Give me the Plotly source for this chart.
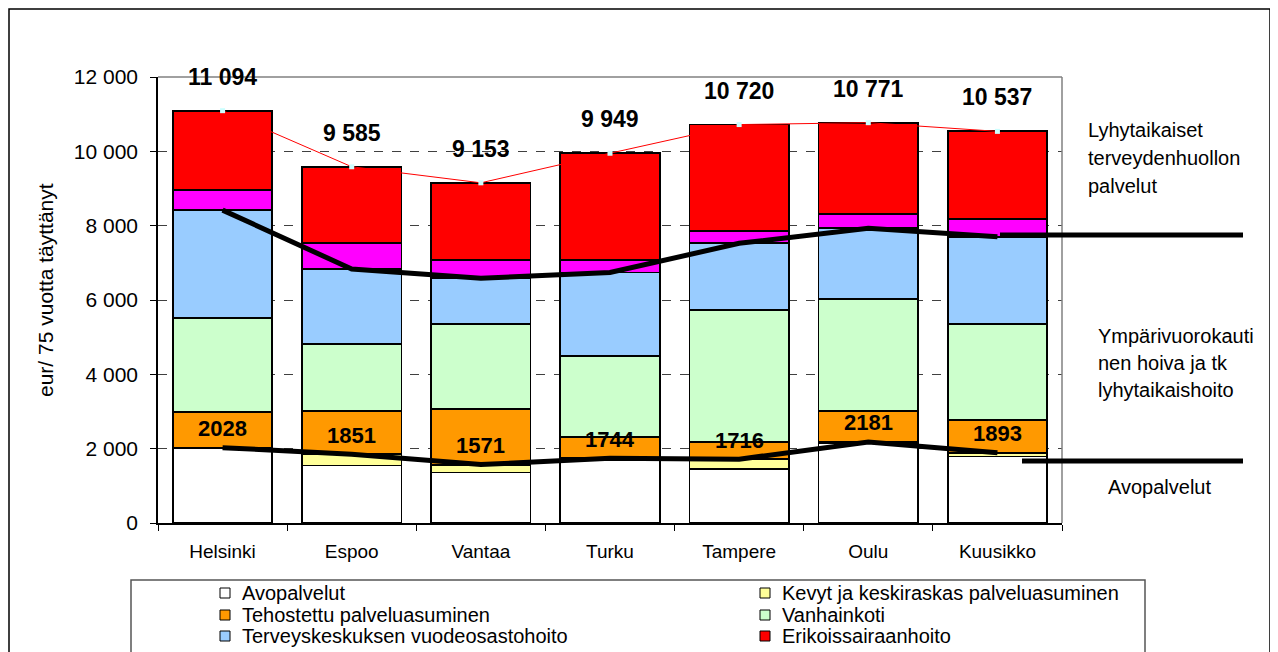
import plotly.graph_objects as go

# ---------------- data ----------------
categories = ["Helsinki", "Espoo", "Vantaa", "Turku", "Tampere", "Oulu", "Kuusikko"]
avopalvelut = [2005, 1545, 1360, 1700, 1460, 2160, 1790]
kevyt_palveluasuminen = [23, 306, 211, 44, 256, 21, 103]
tehostettu_palveluasuminen = [960, 1170, 1499, 579, 455, 841, 878]
vanhainkoti = [2520, 1796, 2275, 2177, 3559, 3013, 2574]
tk_vuodeosastohoito = [2910, 2017, 1238, 2240, 1795, 1893, 2358]
muu_lyhytaikainen = [540, 700, 493, 336, 339, 385, 467]
erikoissairaanhoito = [2136, 2051, 2077, 2873, 2856, 2458, 2367]

series_names = ["Avopalvelut", "Kevyt ja keskiraskas palveluasuminen",
                "Tehostettu palveluasuminen", "Vanhainkoti",
                "Terveyskeskuksen vuodeosastohoito", "", "Erikoissairaanhoito"]
series_values = [avopalvelut, kevyt_palveluasuminen, tehostettu_palveluasuminen,
                 vanhainkoti, tk_vuodeosastohoito, muu_lyhytaikainen, erikoissairaanhoito]
series_colors = ["#FFFFFF", "#FFFF99", "#FF9900", "#CCFFCC", "#99CCFF", "#FF00FF", "#FF0000"]

y_ticks = [0, 2000, 4000, 6000, 8000, 10000, 12000]
y_title = "eur/ 75 vuotta täyttänyt"
group_labels = [
    ["Lyhytaikaiset", "terveydenhuollon", "palvelut"],
    ["Ympärivuorokauti", "nen hoiva ja tk", "lyhytaikaishoito"],
    ["Avopalvelut"],
]

# derived (cumulative) values
avo_total = [a + b for a, b in zip(avopalvelut, kevyt_palveluasuminen)]
ymp_total = [sum(v) for v in zip(*series_values[:5])]
totals = [sum(v) for v in zip(*series_values)]

FONT = "Liberation Sans, Arial, sans-serif"

# page offset (body margin) and plot area in screen pixels
OFF = 8
W, H = 1270, 644
L, R, T, B = 158, 1062, 77, 523


def PX(x):
    return (x - L) / (R - L)


def PY(y):
    return (B - y) / (B - T)


fig = go.Figure()

for name, vals, col in zip(series_names, series_values, series_colors):
    fig.add_trace(go.Bar(
        x=categories, y=vals, name=name, showlegend=False,
        marker=dict(color=col, line=dict(color="black", width=1.8)),
    ))

# thin red line joining totals with small cyan markers
fig.add_trace(go.Scatter(
    x=categories, y=totals, mode="lines+markers", showlegend=False,
    line=dict(color="#FF0000", width=1),
    marker=dict(symbol="square", size=5, color="#CCFFFF", line=dict(width=0)),
))
# thick black lines
fig.add_trace(go.Scatter(x=categories, y=ymp_total, mode="lines", showlegend=False,
                         line=dict(color="black", width=5)))
fig.add_trace(go.Scatter(x=categories, y=avo_total, mode="lines", showlegend=False,
                         line=dict(color="black", width=5)))

annotations = []
for c, t in zip(categories, totals):
    annotations.append(dict(x=c, y=t, xref="x", yref="y", yshift=34, showarrow=False,
                            text=f"{t:,}".replace(",", " "),
                            font=dict(family=FONT, size=23, color="black", weight="bold")))
for c, a in zip(categories, avo_total):
    annotations.append(dict(x=c, y=a, xref="x", yref="y", yshift=19, showarrow=False,
                            text=str(a),
                            font=dict(family=FONT, size=22, color="black", weight="bold")))

# right-hand group texts
group_pos = [(1086, [130, 158, 186]), (1096, [336, 363, 390]), (1106, [487])]
for lines, (gx, gys) in zip(group_labels, group_pos):
    for txt, gy in zip(lines, gys):
        annotations.append(dict(x=PX(gx), y=PY(gy), xref="paper", yref="paper",
                                xanchor="left", yanchor="middle", showarrow=False,
                                text=txt, font=dict(family=FONT, size=20, color="black")))

# y-axis title
annotations.append(dict(x=PX(45), y=PY(290), xref="paper", yref="paper", textangle=-90,
                        xanchor="center", yanchor="middle", showarrow=False, text=y_title,
                        font=dict(family=FONT, size=21, color="black")))

shapes = []
# manual legend (2 columns x 3 rows)
legend_order = [0, 1, 2, 3, 4, 6]
col_x = [220, 760]
row_y = [593, 615, 636]
for k, idx in enumerate(legend_order):
    cx = col_x[k % 2]
    ry = row_y[k // 2]
    shapes.append(dict(type="rect", xref="paper", yref="paper",
                       x0=PX(cx), x1=PX(cx + 10), y0=PY(ry + 5), y1=PY(ry - 5),
                       fillcolor=series_colors[idx], line=dict(color="black", width=1)))
    annotations.append(dict(x=PX(cx + 20), y=PY(ry), xref="paper", yref="paper",
                            xanchor="left", yanchor="middle", showarrow=False,
                            text=series_names[idx],
                            font=dict(family=FONT, size=20, color="black")))
# legend box
shapes.append(dict(type="rect", xref="paper", yref="paper",
                   x0=PX(131), x1=PX(1145), y0=PY(670), y1=PY(580),
                   line=dict(color="#555555", width=1.5)))
# outer chart border (kept just inside the figure so it is not clipped)
shapes.append(dict(type="rect", xref="paper", yref="paper",
                   x0=PX(OFF + 1), x1=PX(1270), y0=PY(670), y1=PY(OFF + 1),
                   line=dict(color="black", width=1.5)))
# plot area top/right border (grey)
shapes.append(dict(type="line", xref="paper", yref="paper", x0=0, x1=1, y0=1, y1=1,
                   line=dict(color="#808080", width=1.5)))
shapes.append(dict(type="line", xref="paper", yref="paper", x0=1, x1=1, y0=0, y1=1,
                   line=dict(color="#808080", width=1.5)))
# separator stubs to the right
shapes.append(dict(type="line", xref="paper", yref="y", x0=PX(1000), x1=PX(1243),
                   y0=7750, y1=7750, line=dict(color="black", width=5)))
shapes.append(dict(type="line", xref="paper", yref="y", x0=PX(1022), x1=PX(1243),
                   y0=1670, y1=1670, line=dict(color="black", width=5)))

fig.update_layout(
    width=W, height=H,
    margin=dict(l=L - OFF, r=W - (R - OFF), t=T - OFF, b=H - (B - OFF), autoexpand=False),
    paper_bgcolor="white", plot_bgcolor="white",
    barmode="stack", bargap=0.23,
    separators=", ",
    showlegend=False,
    font=dict(family=FONT, color="black"),
    annotations=annotations, shapes=shapes,
)
fig.update_xaxes(
    type="category", showline=True, linecolor="black", linewidth=1.5,
    ticks="outside", tickson="boundaries", ticklen=6, tickcolor="black",
    tickfont=dict(family=FONT, size=19, color="black"), ticklabelstandoff=10,
    showgrid=False,
)
fig.update_yaxes(
    range=[0, 12000], tickvals=y_ticks, tickformat=",d",
    showline=True, linecolor="black", linewidth=1.5,
    ticks="outside", ticklen=6, tickcolor="black",
    tickfont=dict(family=FONT, size=21, color="black"), ticklabelstandoff=8,
    showgrid=True, gridcolor="#404040", gridwidth=1, griddash="dash",
    zeroline=False,
)

fig.write_html("out.html")
